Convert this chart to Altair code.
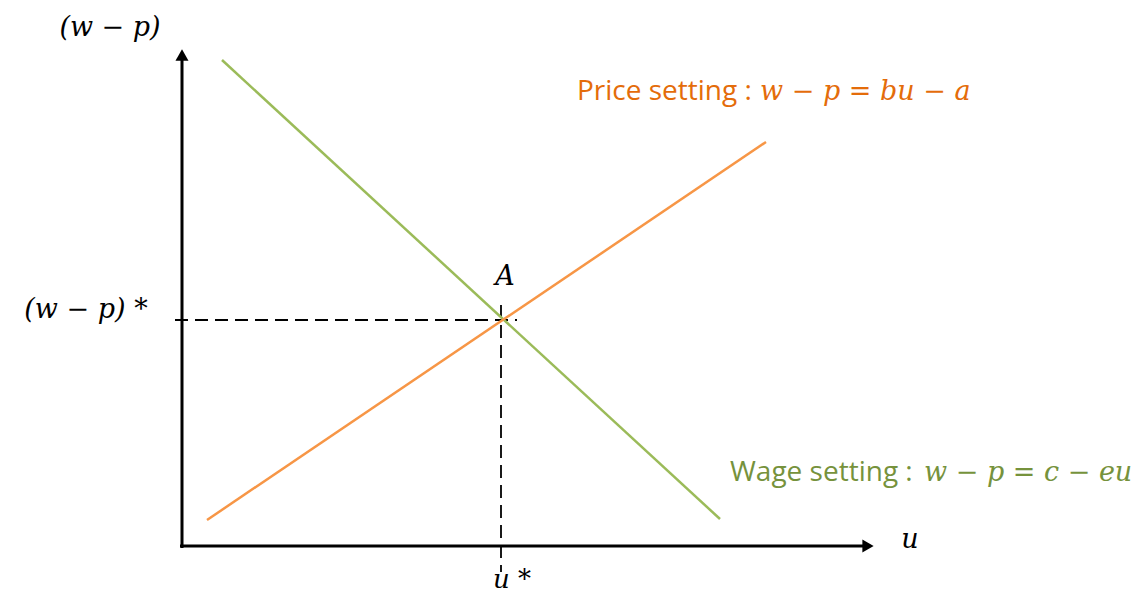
import altair as alt
import pandas as pd

# Economic units: u (unemployment) horizontal, wp (real wage w - p) vertical
# Axes
axis_u1 = [0.0, -0.04]
axis_wp1 = [-0.04, 0.0]
axis_u2 = [0.0, 13.72]
axis_wp2 = [9.8, 0.0]

# Curves
curve_names = ["Wage setting", "Price setting"]
curve_u1 = [0.80, 0.50]
curve_wp1 = [9.72, 0.52]
curve_u2 = [10.76, 11.68]
curve_wp2 = [0.54, 8.08]
curve_colors = ["#9BBB59", "#F79646"]

# Equilibrium guides
guide_u1 = [-0.14, 6.38]
guide_wp1 = [4.52, 4.82]
guide_u2 = [6.70, 6.38]
guide_wp2 = [4.52, -0.52]

# Arrow heads
arrow_u = [0.0, 13.72]
arrow_wp = [9.82, 0.0]
arrow_shape = ["triangle-up", "triangle-right"]

# Math labels (centered)
math_labels = ["(w − p)", "(w − p) *", "A", "u"]
math_u = [-1.44, -1.92, 6.46, 14.56]
math_wp = [10.36, 4.72, 5.38, 0.12]
# label under the u axis (bottom baseline)
ustar_label = ["u *"]
ustar_u = [6.60]
ustar_wp = [-0.93]

# Curve labels
label_text = ["Price setting :", "Wage setting :"]
label_u = [7.90, 10.96]
label_wp = [9.08, 1.46]
label_eq = ["w − p = bu − a", "w − p = c − eu"]
label_eq_u = [11.56, 14.84]
label_colors = ["#E46C0A", "#76923C"]

xs = alt.Scale(domain=[-3.48, 18.98], nice=False, zero=False)
ys = alt.Scale(domain=[-0.94, 10.76], nice=False, zero=False)
X = lambda f: alt.X(f, type="quantitative", scale=xs, axis=None)
Y = lambda f: alt.Y(f, type="quantitative", scale=ys, axis=None)

axes_df = pd.DataFrame({"u1": axis_u1, "wp1": axis_wp1, "u2": axis_u2, "wp2": axis_wp2})
curves_df = pd.DataFrame({"name": curve_names, "u1": curve_u1, "wp1": curve_wp1,
                          "u2": curve_u2, "wp2": curve_wp2, "c": curve_colors})
guides_df = pd.DataFrame({"u1": guide_u1, "wp1": guide_wp1, "u2": guide_u2, "wp2": guide_wp2})
arrows_df = pd.DataFrame({"u": arrow_u, "wp": arrow_wp, "s": arrow_shape})
math_df = pd.DataFrame({"t": math_labels, "u": math_u, "wp": math_wp})
ustar_df = pd.DataFrame({"t": ustar_label, "u": ustar_u, "wp": ustar_wp})
lab_df = pd.DataFrame({"t": label_text, "u": label_u, "wp": label_wp, "c": label_colors})
eq_df = pd.DataFrame({"t": label_eq, "u": label_eq_u, "wp": label_wp, "c": label_colors})

MATH_FONT = "DejaVu Serif"

axes = alt.Chart(axes_df).mark_rule(color="black", strokeWidth=3).encode(
    x=X("u1"), y=Y("wp1"), x2="u2", y2="wp2")
guides = alt.Chart(guides_df).mark_rule(color="black", strokeWidth=1.8, strokeDash=[13, 7]).encode(
    x=X("u1"), y=Y("wp1"), x2="u2", y2="wp2")
curves = alt.Chart(curves_df).mark_rule(strokeWidth=2.5).encode(
    x=X("u1"), y=Y("wp1"), x2="u2", y2="wp2",
    color=alt.Color("c:N", scale=None))
arrows = alt.Chart(arrows_df).mark_point(filled=True, opacity=1, color="black", size=170).encode(
    x=X("u"), y=Y("wp"), shape=alt.Shape("s:N", scale=None))
math = alt.Chart(math_df).mark_text(font=MATH_FONT, fontStyle="italic", fontSize=27,
                                    color="black", align="center", baseline="middle").encode(
    x=X("u"), y=Y("wp"), text="t:N")
ustar = alt.Chart(ustar_df).mark_text(font=MATH_FONT, fontStyle="italic", fontSize=26,
                                      color="black", align="center", baseline="bottom").encode(
    x=X("u"), y=Y("wp"), text="t:N")
labels = alt.Chart(lab_df).mark_text(font="Open Sans", fontSize=28, align="left", baseline="middle").encode(
    x=X("u"), y=Y("wp"), text="t:N", color=alt.Color("c:N", scale=None))
eqs = alt.Chart(eq_df).mark_text(font=MATH_FONT, fontStyle="italic", fontSize=27,
                                 align="left", baseline="middle").encode(
    x=X("u"), y=Y("wp"), text="t:N", color=alt.Color("c:N", scale=None))

chart = alt.layer(guides, curves, axes, arrows, math, ustar, labels, eqs).properties(
    width=1123, height=585, padding=0, autosize=alt.AutoSizeParams(type="none")
).configure_view(stroke=None)

chart.save("out.html", embed_options={"renderer": "svg", "actions": False})
